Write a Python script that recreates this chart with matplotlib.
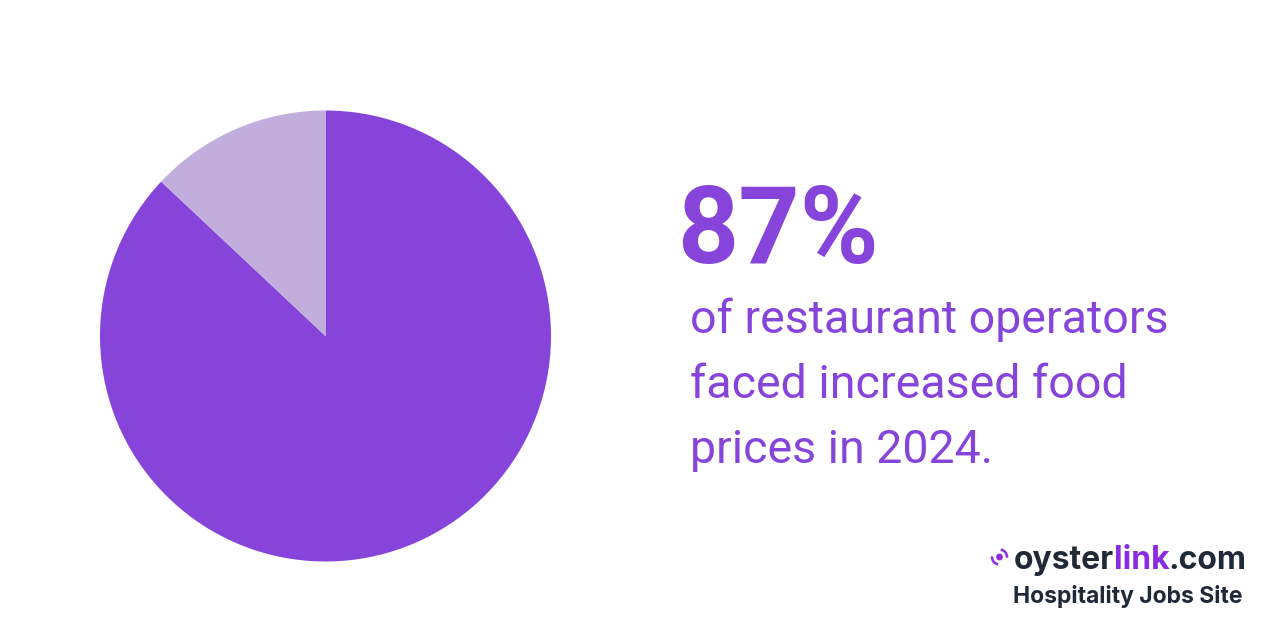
import matplotlib
matplotlib.use("Agg")
import matplotlib.pyplot as plt
from matplotlib.patches import Arc, Circle

# pie shares (percent)
shares = [87, 13]
slice_colors = ["#8644DB", "#C1AEDC"]

headline = "87%"
body_lines = ["of restaurant operators", "faced increased food", "prices in 2024."]
logo_parts = ["oyster", "link", ".com"]
tagline = "Hospitality Jobs Site"

plt.rcParams["font.family"] = ["Roboto", "DejaVu Sans"]

fig = plt.figure(figsize=(12.8, 6.4), dpi=100, facecolor="white")

# pie axes, 451 px across centred at (325.5, 336)
ax = fig.add_axes([100 / 1280, 1 - 561.5 / 640, 451 / 1280, 451 / 640])
ax.pie(shares, colors=slice_colors, startangle=90, counterclock=False, radius=1.0,
       wedgeprops={"linewidth": 0})
ax.set_xlim(-1, 1)
ax.set_ylim(-1, 1)
ax.set_aspect("equal")
ax.axis("off")

purple = "#8644DB"
logo_purple = "#8A2BE2"
dark = "#1F2937"


def place(x, y, s, **kw):
    return fig.text(x / 1280, 1 - y / 640, s, **kw)


place(677.5, 263, headline, fontsize=77, fontweight="bold", color=purple, va="baseline")

for s, y in zip(body_lines, [333, 398, 463]):
    place(690, y, s, fontsize=33.5, color=purple, va="baseline")

# logo text, pieces laid out one after the other
fig.canvas.draw()
rend = fig.canvas.get_renderer()
x = 1014
for s, col in zip(logo_parts, [dark, logo_purple, dark]):
    t = place(x, 569, s, fontsize=23, fontweight="bold", color=col, va="baseline",
              family=["Inter", "DejaVu Sans"])
    x += t.get_window_extent(rend).width - 0.5

place(1013, 603, tagline, fontsize=16.5, fontweight="bold", color=dark, va="baseline",
      family=["Inter", "DejaVu Sans"])

# logo icon: dot with two short arcs, in a pixel-space overlay
icon = fig.add_axes([0, 0, 1, 1], facecolor="none")
icon.set_xlim(0, 1280)
icon.set_ylim(640, 0)
icon.axis("off")
icon.add_patch(Circle((999.5, 557), 3.4, color=logo_purple, lw=0))
icon.add_patch(Arc((999.5, 557), 15, 15, theta1=-80, theta2=5, color=logo_purple, lw=1.8))
icon.add_patch(Arc((999.5, 557), 15, 15, theta1=100, theta2=185, color=logo_purple, lw=1.8))

fig.savefig("out.png", dpi=100, facecolor="white")
